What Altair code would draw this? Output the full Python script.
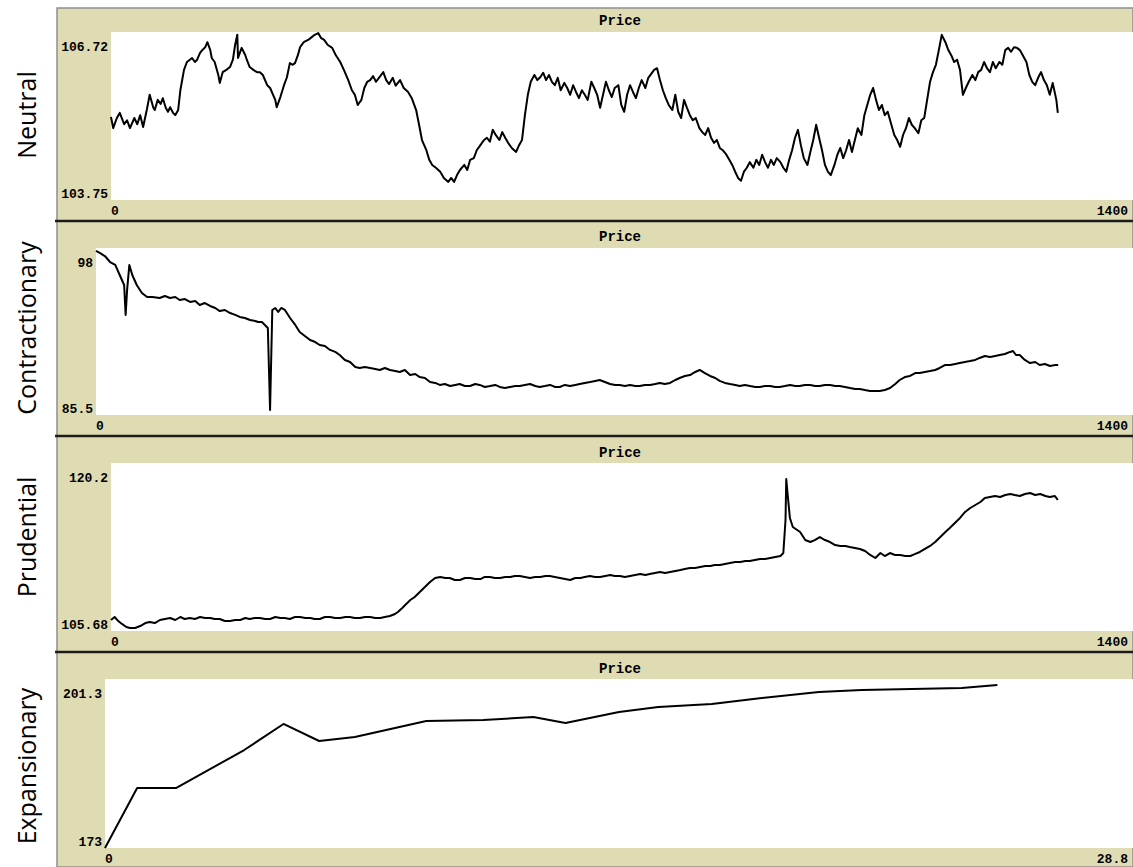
import altair as alt
import pandas as pd

# ---------------- data ----------------
panel_names = ["Neutral", "Contractionary", "Prudential", "Expansionary"]

neutral_ticks = [
    0, 3, 8, 12, 18, 22, 26, 32, 36, 40,
    44, 49, 53, 58, 60, 64, 68, 71, 75, 78,
    81, 85, 88, 92, 95, 100, 104, 108, 111, 115,
    118, 122, 125, 129, 132, 136, 138, 142, 147, 149,
    153, 158, 163, 167, 170, 173, 174, 177, 179, 184,
    186, 190, 195, 200, 204, 208, 214, 218, 221, 225,
    227, 232, 237, 241, 245, 249, 252, 256, 259, 264,
    270, 275, 279, 284, 288, 292, 297, 303, 308, 314,
    319, 325, 330, 334, 338, 343, 347, 351, 355, 359,
    363, 367, 373, 377, 381, 386, 390, 396, 401, 407,
    412, 418, 422, 426, 432, 436, 440, 445, 451, 456,
    462, 466, 470, 474, 478, 484, 488, 492, 497, 501,
    506, 511, 515, 519, 523, 527, 532, 536, 540, 544,
    549, 555, 559, 563, 567, 571, 575, 580, 584, 588,
    592, 596, 600, 604, 608, 612, 616, 621, 625, 629,
    633, 637, 641, 645, 649, 653, 658, 662, 666, 670,
    674, 678, 682, 686, 690, 695, 699, 703, 707, 711,
    715, 719, 723, 727, 732, 736, 740, 744, 748, 752,
    756, 760, 764, 769, 773, 777, 781, 785, 789, 793,
    797, 801, 806, 810, 814, 818, 822, 826, 830, 834,
    838, 843, 847, 851, 855, 859, 863, 867, 871, 875,
    880, 884, 888, 892, 896, 900, 904, 908, 912, 917,
    921, 925, 929, 933, 937, 941, 945, 949, 954, 958,
    962, 966, 970, 974, 978, 982, 986, 991, 995, 999,
    1003, 1007, 1011, 1015, 1019, 1023, 1028, 1032, 1036, 1040,
    1044, 1048, 1052, 1056, 1060, 1064, 1069, 1073, 1077, 1081,
    1085, 1089, 1093, 1097, 1101, 1106, 1110, 1114, 1118, 1122,
    1126, 1130, 1134, 1138, 1143, 1147, 1151, 1155, 1159, 1163,
    1167, 1171, 1175, 1180, 1184, 1188, 1192, 1196, 1200, 1204,
    1208, 1212, 1217, 1221, 1225, 1229, 1233, 1237, 1241, 1245,
    1249, 1254, 1258, 1262, 1266, 1270, 1274, 1278, 1282, 1286,
    1290, 1295, 1297,
]
neutral_price = [
    105.22, 105.02, 105.20, 105.29, 105.09, 105.16, 105.02, 105.20, 105.09, 105.25,
    105.04, 105.34, 105.61, 105.38, 105.34, 105.52, 105.45, 105.55, 105.38, 105.31,
    105.39, 105.29, 105.25, 105.34, 105.69, 106.05, 106.19, 106.23, 106.26, 106.19,
    106.23, 106.35, 106.40, 106.45, 106.54, 106.40, 106.26, 106.19, 105.96, 105.82,
    106.01, 106.05, 106.10, 106.23, 106.49, 106.67, 106.26, 106.37, 106.44, 106.31,
    106.23, 106.10, 106.05, 106.01, 106.01, 105.96, 105.78, 105.73, 105.64, 105.52,
    105.39, 105.57, 105.78, 105.92, 106.17, 106.14, 106.17, 106.31, 106.45, 106.54,
    106.58, 106.63, 106.67, 106.70, 106.61, 106.58, 106.49, 106.44, 106.31, 106.19,
    106.05, 105.87, 105.69, 105.61, 105.43, 105.52, 105.73, 105.84, 105.87, 105.94,
    105.84, 105.91, 106.01, 105.87, 105.80, 105.91, 105.77, 105.87, 105.73, 105.66,
    105.55, 105.34, 105.08, 104.81, 104.63, 104.46, 104.37, 104.32, 104.25, 104.14,
    104.07, 104.14, 104.07, 104.19, 104.28, 104.37, 104.28, 104.46, 104.49, 104.63,
    104.72, 104.81, 104.85, 104.78, 104.99, 104.90, 104.81, 104.95, 104.85, 104.76,
    104.67, 104.60, 104.72, 104.81, 105.25, 105.61, 105.84, 105.96, 105.87, 105.92,
    106.00, 105.87, 105.96, 105.84, 105.78, 105.91, 105.69, 105.82, 105.73, 105.61,
    105.78, 105.66, 105.55, 105.69, 105.61, 105.52, 105.84, 105.73, 105.61, 105.38,
    105.61, 105.84, 105.69, 105.57, 105.73, 105.78, 105.43, 105.31, 105.61, 105.78,
    105.66, 105.55, 105.73, 105.87, 105.73, 105.91, 105.98, 106.05, 106.08, 105.87,
    105.69, 105.55, 105.43, 105.34, 105.61, 105.31, 105.20, 105.52, 105.38, 105.25,
    105.16, 105.20, 105.02, 104.95, 104.90, 105.02, 104.85, 104.76, 104.81, 104.67,
    104.63, 104.55, 104.46, 104.37, 104.25, 104.14, 104.09, 104.25, 104.32, 104.42,
    104.32, 104.46, 104.37, 104.55, 104.42, 104.32, 104.46, 104.37, 104.49, 104.42,
    104.32, 104.25, 104.46, 104.63, 104.85, 104.99, 104.72, 104.49, 104.37, 104.60,
    104.81, 105.08, 104.85, 104.63, 104.37, 104.25, 104.19, 104.37, 104.55, 104.67,
    104.49, 104.63, 104.81, 104.60, 104.81, 105.02, 104.90, 105.25, 105.43, 105.61,
    105.73, 105.52, 105.34, 105.43, 105.25, 105.31, 105.08, 104.90, 104.81, 104.69,
    104.90, 105.02, 105.20, 105.08, 105.02, 104.93, 105.16, 105.20, 105.52, 105.84,
    106.01, 106.14, 106.40, 106.67, 106.54, 106.40, 106.31, 106.19, 106.23, 106.05,
    105.61, 105.73, 105.84, 105.96, 105.87, 106.01, 106.05, 106.19, 106.08, 106.01,
    106.19, 106.08, 106.19, 106.14, 106.40, 106.44, 106.37, 106.45, 106.44, 106.40,
    106.31, 106.19, 105.96, 105.84, 105.78, 105.91, 106.01, 105.87, 105.78, 105.61,
    105.82, 105.52, 105.29,
]

contractionary_ticks = [
    0, 5, 12, 19, 26, 32, 38, 39, 40, 42,
    45, 49, 55, 62, 69, 76, 86, 93, 100, 107,
    113, 120, 127, 134, 140, 147, 154, 161, 167, 174,
    181, 188, 194, 201, 208, 215, 219, 224, 228, 232,
    235, 238, 242, 246, 250, 255, 262, 269, 275, 282,
    289, 296, 302, 309, 316, 323, 329, 336, 343, 350,
    356, 363, 370, 377, 383, 390, 397, 404, 410, 417,
    424, 431, 437, 444, 451, 458, 464, 471, 478, 485,
    491, 498, 505, 512, 518, 525, 532, 539, 545, 552,
    559, 566, 572, 579, 586, 593, 599, 606, 613, 620,
    626, 633, 640, 647, 653, 660, 667, 674, 680, 687,
    694, 701, 707, 714, 721, 728, 734, 741, 748, 755,
    761, 768, 775, 782, 788, 795, 802, 809, 815, 822,
    829, 836, 842, 849, 856, 863, 869, 876, 883, 890,
    896, 903, 910, 917, 923, 930, 937, 944, 950, 957,
    964, 971, 977, 984, 991, 998, 1004, 1011, 1018, 1025,
    1031, 1038, 1045, 1052, 1058, 1065, 1072, 1079, 1085, 1092,
    1099, 1106, 1112, 1119, 1126, 1133, 1139, 1146, 1153, 1160,
    1166, 1173, 1180, 1187, 1193, 1200, 1207, 1214, 1220, 1227,
    1234, 1238, 1242, 1247, 1254, 1261, 1268, 1274, 1281, 1288,
    1295, 1299,
]
contractionary_price = [
    97.78, 97.63, 97.40, 96.95, 96.73, 95.98, 95.23, 94.11, 92.99, 94.86,
    96.73, 95.98, 95.23, 94.63, 94.33, 94.33, 94.26, 94.41, 94.26, 94.33,
    94.11, 94.18, 93.96, 94.03, 93.73, 93.88, 93.66, 93.51, 93.28, 93.36,
    93.13, 92.99, 92.84, 92.76, 92.61, 92.54, 92.46, 92.46, 92.24, 92.01,
    85.87, 93.36, 93.51, 93.21, 93.51, 93.36, 92.76, 92.24, 91.71, 91.41,
    91.11, 90.96, 90.74, 90.66, 90.37, 90.22, 89.99, 89.62, 89.47, 89.09,
    89.02, 89.09, 89.02, 88.94, 88.87, 89.02, 88.87, 88.79, 88.72, 88.87,
    88.49, 88.57, 88.34, 88.27, 87.97, 87.90, 87.75, 87.82, 87.67, 87.75,
    87.82, 87.67, 87.67, 87.82, 87.75, 87.60, 87.67, 87.75, 87.60, 87.52,
    87.60, 87.67, 87.67, 87.75, 87.82, 87.67, 87.60, 87.67, 87.75, 87.60,
    87.60, 87.75, 87.67, 87.75, 87.82, 87.90, 87.97, 88.05, 88.12, 87.97,
    87.82, 87.75, 87.75, 87.67, 87.75, 87.67, 87.67, 87.75, 87.75, 87.82,
    87.90, 87.82, 87.90, 88.12, 88.27, 88.42, 88.49, 88.72, 88.87, 88.64,
    88.42, 88.27, 88.05, 87.90, 87.82, 87.75, 87.67, 87.75, 87.67, 87.60,
    87.60, 87.67, 87.67, 87.60, 87.60, 87.67, 87.75, 87.67, 87.67, 87.75,
    87.75, 87.67, 87.67, 87.75, 87.75, 87.67, 87.67, 87.60, 87.52, 87.45,
    87.45, 87.37, 87.30, 87.30, 87.30, 87.37, 87.52, 87.82, 88.12, 88.34,
    88.42, 88.64, 88.64, 88.72, 88.79, 88.87, 89.02, 89.24, 89.24, 89.32,
    89.39, 89.47, 89.54, 89.62, 89.77, 89.92, 89.84, 89.92, 89.99, 90.07,
    90.22, 90.29, 89.99, 89.99, 89.62, 89.39, 89.47, 89.24, 89.32, 89.17,
    89.24, 89.24,
]

prudential_ticks = [
    0, 5, 10, 15, 21, 26, 33, 40, 47, 53,
    60, 67, 74, 81, 88, 95, 101, 108, 115, 122,
    129, 136, 142, 149, 156, 163, 170, 177, 184, 190,
    197, 204, 211, 218, 225, 232, 238, 245, 252, 259,
    266, 273, 279, 286, 293, 300, 307, 314, 321, 327,
    334, 341, 348, 355, 362, 369, 375, 382, 389, 393,
    399, 403, 410, 416, 423, 430, 437, 444, 451, 458,
    464, 471, 478, 485, 492, 499, 506, 512, 519, 526,
    533, 540, 547, 553, 560, 567, 574, 581, 588, 595,
    601, 608, 615, 622, 629, 636, 643, 649, 656, 663,
    670, 677, 684, 690, 697, 704, 711, 718, 725, 732,
    738, 745, 752, 759, 766, 773, 780, 786, 793, 800,
    807, 814, 821, 827, 834, 841, 848, 855, 862, 869,
    875, 882, 889, 896, 903, 910, 917, 921, 924, 925,
    927, 930, 934, 940, 944, 951, 958, 964, 971, 978,
    985, 992, 999, 1006, 1012, 1019, 1026, 1033, 1040, 1047,
    1054, 1060, 1067, 1074, 1081, 1088, 1095, 1101, 1108, 1115,
    1122, 1129, 1136, 1143, 1149, 1156, 1163, 1170, 1177, 1184,
    1191, 1197, 1204, 1211, 1218, 1225, 1232, 1238, 1245, 1252,
    1259, 1266, 1273, 1280, 1286, 1293, 1297,
]
prudential_price = [
    106.63, 106.89, 106.54, 106.29, 106.03, 105.94, 105.94, 106.11, 106.37, 106.46,
    106.37, 106.63, 106.72, 106.80, 106.63, 106.89, 106.72, 106.80, 106.72, 106.89,
    106.80, 106.80, 106.72, 106.72, 106.54, 106.54, 106.63, 106.63, 106.80, 106.72,
    106.80, 106.80, 106.72, 106.72, 106.89, 106.80, 106.80, 106.72, 106.89, 106.89,
    106.80, 106.80, 106.72, 106.72, 106.89, 106.89, 106.80, 106.80, 106.89, 106.89,
    106.80, 106.80, 106.89, 106.89, 106.80, 106.80, 106.89, 106.98, 107.15, 107.32,
    107.67, 107.93, 108.36, 108.62, 109.05, 109.48, 109.92, 110.26, 110.35, 110.26,
    110.26, 110.09, 110.09, 110.26, 110.26, 110.17, 110.17, 110.35, 110.35, 110.26,
    110.26, 110.35, 110.35, 110.43, 110.43, 110.35, 110.26, 110.35, 110.35, 110.43,
    110.43, 110.35, 110.26, 110.17, 110.09, 110.26, 110.26, 110.35, 110.43, 110.35,
    110.35, 110.43, 110.52, 110.43, 110.43, 110.35, 110.43, 110.52, 110.61, 110.52,
    110.61, 110.69, 110.78, 110.69, 110.78, 110.87, 110.95, 111.04, 111.12, 111.12,
    111.21, 111.30, 111.30, 111.38, 111.38, 111.47, 111.56, 111.64, 111.64, 111.73,
    111.73, 111.82, 111.90, 111.90, 111.99, 112.08, 112.16, 112.42, 115.27, 118.82,
    117.43, 115.45, 114.67, 114.41, 114.24, 113.54, 113.37, 113.54, 113.80, 113.54,
    113.37, 113.11, 113.03, 113.03, 112.94, 112.85, 112.77, 112.59, 112.25, 111.99,
    112.42, 112.16, 112.42, 112.25, 112.25, 112.16, 112.16, 112.33, 112.51, 112.77,
    113.03, 113.37, 113.80, 114.24, 114.58, 115.01, 115.45, 115.97, 116.31, 116.57,
    116.83, 117.18, 117.26, 117.35, 117.26, 117.43, 117.52, 117.43, 117.35, 117.52,
    117.61, 117.43, 117.52, 117.35, 117.26, 117.35, 117.00,
]

expansionary_ticks = [0, 0.9, 2.0, 3.9, 5.0, 6.0, 7.0, 9.0, 10.6, 12.0,
                      12.9, 14.4, 15.5, 17.0, 18.4, 20.0, 21.2, 24.0, 25.0]
expansionary_price = [173.0, 183.05, 183.05, 189.41, 193.77, 190.92, 191.59, 194.27, 194.43, 194.94,
                      193.93, 195.77, 196.61, 197.11, 198.12, 199.12, 199.46, 199.79, 200.30]

# plot ranges shown on each panel
x_max = [1400, 1400, 1400, 28.8]
y_min = [103.75, 85.5, 105.68, 173]
y_max = [106.72, 98, 120.2, 201.3]

series = [
    (neutral_ticks, neutral_price),
    (contractionary_ticks, contractionary_price),
    (prudential_ticks, prudential_price),
    (expansionary_ticks, expansionary_price),
]

# ---------------- layout / style ----------------
TAN = "#DFDCB3"
FRAME = "#8E8E8E"
W, H = 1076, 859                      # whole framed area
plot_left = [54, 39, 54, 48]          # left edge of each white plotting area
plot_top = [24, 240, 455, 671]
plot_bottom = [192, 407, 623, 840]
title_y = [13, 229, 445, 661]
name_y = [107, 320, 529, 758]
rule_y = [213, 428, 644]

NUM_FONT = "Liberation Mono"
NAME_FONT = "Open Sans"


def fmt(v):
    return f"{v:g}"


layers = []
for i, name in enumerate(panel_names):
    ticks, price = series[i]
    xs = alt.Scale(domain=[0, x_max[i]], range=[plot_left[i], W], nice=False, zero=False)
    ys = alt.Scale(domain=[y_min[i], y_max[i]], range=[plot_bottom[i], plot_top[i]],
                   nice=False, zero=False)

    def X(field):
        return alt.X(field, type="quantitative", scale=xs, axis=None)

    def Y(field):
        return alt.Y(field, type="quantitative", scale=ys, axis=None)

    # white plotting area spanning the panel's ranges
    box = pd.DataFrame({"x0": [0], "x1": [x_max[i]], "y0": [y_min[i]], "y1": [y_max[i]]})
    layers.append(
        alt.Chart(box).mark_rect(fill="white", strokeWidth=0).encode(
            x=X("x0"), x2="x1", y=Y("y0"), y2="y1"
        )
    )

    # price line
    df = pd.DataFrame({"tick": ticks, "price": price})
    layers.append(
        alt.Chart(df).mark_line(color="black", strokeWidth=2, strokeJoin="round").encode(
            x=X("tick"), y=Y("price")
        )
    )

    num_style = dict(font=NUM_FONT, fontWeight="bold", fontSize=13, color="black")

    # y-range labels (max near the top, min at the bottom)
    top_lbl = pd.DataFrame({"x": [0], "v": [y_max[i]], "label": [fmt(y_max[i])]})
    bot_lbl = pd.DataFrame({"x": [0], "v": [y_min[i]], "label": [fmt(y_min[i])]})
    layers.append(
        alt.Chart(top_lbl).mark_text(align="right", baseline="middle", dx=-3, dy=15, **num_style)
        .encode(x=X("x"), y=Y("v"), text="label:N")
    )
    layers.append(
        alt.Chart(bot_lbl).mark_text(align="right", baseline="middle", dx=-3, dy=-6, **num_style)
        .encode(x=X("x"), y=Y("v"), text="label:N")
    )

    # x-range labels in the band under the plot
    x0_lbl = pd.DataFrame({"x": [0], "v": [y_min[i]], "label": ["0"]})
    x1_lbl = pd.DataFrame({"x": [x_max[i]], "v": [y_min[i]], "label": [fmt(x_max[i])]})
    layers.append(
        alt.Chart(x0_lbl).mark_text(align="left", baseline="middle", dx=0, dy=11, **num_style)
        .encode(x=X("x"), y=Y("v"), text="label:N")
    )
    layers.append(
        alt.Chart(x1_lbl).mark_text(align="right", baseline="middle", dx=-5, dy=11, **num_style)
        .encode(x=X("x"), y=Y("v"), text="label:N")
    )

    # panel title bar text
    layers.append(
        alt.Chart(pd.DataFrame({"title": ["Price"]}))
        .mark_text(align="center", baseline="middle", font=NUM_FONT, fontWeight="bold",
                   fontSize=14, color="black")
        .encode(x=alt.value(563), y=alt.value(title_y[i]), text="title:N")
    )

    # scenario name, rotated, in the left margin
    layers.append(
        alt.Chart(pd.DataFrame({"name": [name]}))
        .mark_text(align="center", baseline="middle", angle=270, font=NAME_FONT,
                   fontSize=25, color="black")
        .encode(x=alt.value(-29), y=alt.value(name_y[i]), text="name:N")
    )

# dark separators between the stacked plots
for ry in rule_y:
    layers.append(
        alt.Chart(pd.DataFrame({"k": [0]}))
        .mark_rule(color="#1c1c1c", strokeWidth=2.5)
        .encode(x=alt.value(-2), x2=alt.value(W), y=alt.value(ry))
    )

chart = (
    alt.layer(*layers)
    .resolve_scale(x="independent", y="independent")
    .properties(
        width=W,
        height=H,
        padding={"left": 57, "top": 8, "right": 0, "bottom": 0},
        autosize=alt.AutoSizeParams(type="none"),
        background="white",
    )
    .configure_view(fill=TAN, stroke=FRAME, strokeWidth=1.5)
)

chart.save("out.html", embed_options={"renderer": "svg", "actions": False})
